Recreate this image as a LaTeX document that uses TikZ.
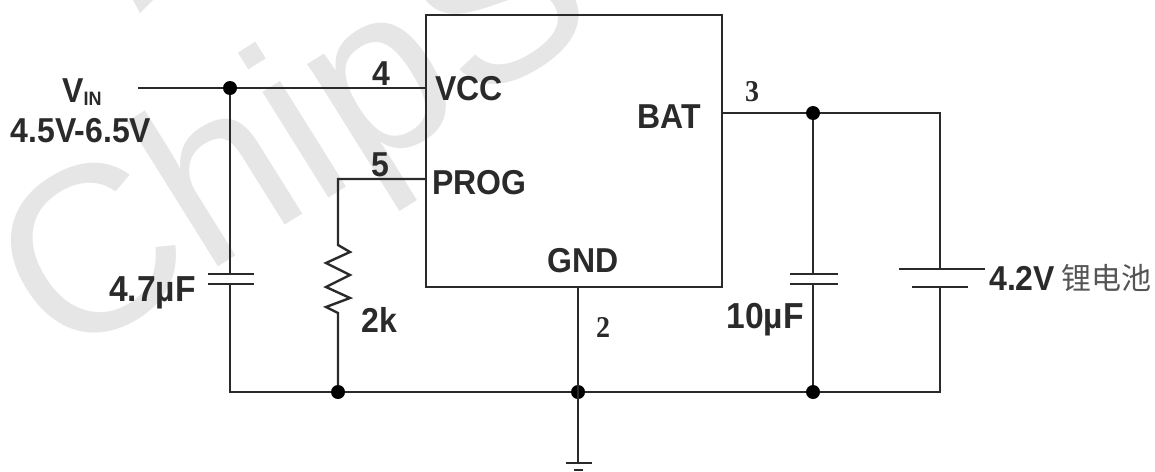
\documentclass[tikz,border=0pt]{standalone}
\usepackage{graphicx}
\usepackage{fontspec}
\setmainfont{Liberation Sans}
\newfontfamily\serifnum{Liberation Serif}
\newfontfamily\cjk{Noto Sans CJK SC}
\definecolor{ink}{HTML}{2A2A2A}
\definecolor{wm}{HTML}{E6E6E6}
\newcommand\tallt[1]{\scalebox{1}[1.08]{#1}}
\newcommand\widet[1]{\scalebox{1.05}[1.13]{#1}}
\tikzset{
  wire/.style={draw=ink,line width=2.4pt},
  plate/.style={draw=ink,line width=2.4pt},
  junction/.style={circle,fill=black,inner sep=0pt,minimum size=14pt},
  lbl/.style={text=ink,inner sep=0pt,font=\fontsize{32}{32}\selectfont\bfseries},
  pinnum/.style={text=ink,inner sep=0pt,font=\fontsize{32}{32}\selectfont\bfseries},
  pinser/.style={text=ink,inner sep=0pt,font=\fontsize{28}{28}\selectfont\serifnum\bfseries},
  chip/.style={draw=ink,line width=2.4pt,minimum width=296pt,minimum height=272pt,inner sep=0pt},
  watermark/.style={text=wm,inner sep=0pt,font=\fontsize{236}{236}\selectfont,rotate=32,anchor=base west},
}
\begin{document}
\begin{tikzpicture}[x=1pt,y=-1pt]
\useasboundingbox (0,0) rectangle (1155,471);
\begin{scope}
\clip (0,0) rectangle (1155,471);
\node[watermark] (wmark) at (60,366) {ChipS};
\fill[wm] (133,0) -- (153,0) -- (140,13) -- cycle;
\end{scope}
% chip
\node[chip] (ic) at (574,151) {};
% junctions
\node[junction] (jvin) at (230,88) {};
\node[junction] (jbat) at (813,113) {};
\node[junction] (jr) at (338,392) {};
\node[junction] (jg) at (578,392) {};
\node[junction] (jc) at (813,392) {};
% free ends and corners
\coordinate (vin) at (138,88);
\coordinate (vccpin) at (426,88);
\coordinate (progpin) at (426,179);
\coordinate (progc) at (338,179);
\coordinate (batpin) at (722,113);
\coordinate (batc) at (940,113);
\coordinate (botl) at (230,392);
\coordinate (botr) at (940,392);
\coordinate (gndpin) at (578,287);
\coordinate (gndb) at (578,463);
% left capacitor
\draw[plate] (208,274) -- (254,274);
\draw[plate] (208,284) -- (254,284);
% output capacitor
\draw[plate] (790,274) -- (838,274);
\draw[plate] (790,284) -- (838,284);
% battery
\draw[plate] (899,269) -- (985,269);
\draw[plate] (912,287) -- (968,287);
% wires
\draw[wire] (vin) -- (jvin) -- (vccpin);
\draw[wire] (jvin) -- (230,274);
\draw[wire] (230,284) -- (botl) -- (jr) -- (jg) -- (jc) -- (botr) -- (940,287);
\draw[wire] (940,269) -- (batc) -- (jbat) -- (batpin);
\draw[wire] (jbat) -- (813,274);
\draw[wire] (813,284) -- (jc);
\draw[wire] (progpin) -- (progc) -- (338,245) -- (350,252) -- (326,263) -- (350,275) -- (326,287) -- (350,298) -- (326,307) -- (338,313) -- (jr);
\draw[wire] (gndpin) -- (gndb);
% ground
\draw[plate] (566,463) -- (592,463);
\draw[plate] (574,470) -- (583,470);
% labels
\node[lbl] (lvin) at (82,92) {\tallt{V\raisebox{-3pt}{\fontsize{18}{18}\selectfont IN}}};
\node[lbl] (lrange) at (81,131) {\tallt{4.5V-6.5V}};
\node[lbl,anchor=east] (lc1) at (196,293) {\widet{4.7µF}};
\node[lbl] (l2k) at (379,320) {\tallt{2k}};
\node[lbl,anchor=west] (lvcc) at (435,89) {\tallt{VCC}};
\node[lbl,anchor=west] (lprog) at (432,183) {\tallt{PROG}};
\node[lbl] (lgnd) at (583,261) {\tallt{GND}};
\node[lbl] (lbat) at (669,117) {\tallt{BAT}};
\node[lbl] (lc2) at (765,320) {\widet{10µF}};
\node[lbl,anchor=west] (lbatt) at (989,278) {\tallt{4.2V}};
\node[text=ink!80,inner sep=0pt,anchor=west,font=\fontsize{30}{30}\selectfont\cjk] (lcn) at (1061,278) {锂电池};
\node[pinnum] (p4) at (381,74) {\tallt{4}};
\node[pinnum] (p5) at (380,165) {\tallt{5}};
\node[pinser] (p3) at (752,92) {\tallt{3}};
\node[pinser] (p2) at (603,327) {\tallt{2}};
\end{tikzpicture}
\end{document}
